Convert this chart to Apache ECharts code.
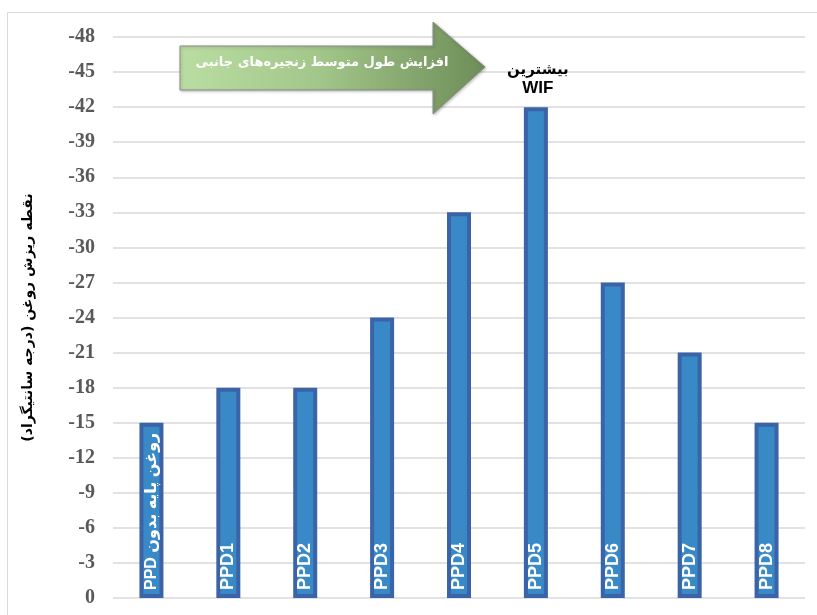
<!DOCTYPE html>
<html>
<head>
<meta charset="utf-8">
<script src="https://cdn.jsdelivr.net/npm/echarts@6/dist/echarts.min.js"></script>
<style>
html,body{margin:0;padding:0;background:#fff;}
#c{width:817px;height:615px;}
</style>
</head>
<body>
<div id="c"></div>
<script>
// ---- data ----
const categories = ['\u202Bروغن پایه بدون PPD\u202C', 'PPD1', 'PPD2', 'PPD3', 'PPD4', 'PPD5', 'PPD6', 'PPD7', 'PPD8'];
const pourPoint = [-15, -18, -18, -24, -33, -42, -27, -21, -15];
const yMin = -48, yMax = 0, yStep = 3;
const yAxisTitle = '\u202Bنقطه ریزش روغن (درجه سانتیگراد)\u202C';
const arrowText = '\u202Bافزایش طول متوسط زنجیره‌های جانبی\u202C';
const peakNote = ['\u202Bبیشترین\u202C', 'WIF'];
const peakIndex = 5;

const chart = echarts.init(document.getElementById('c'), null, {renderer: 'canvas'});

const option = {
  backgroundColor: '#fff',
  animation: false,
  grid: {left: 113, right: 12, top: 37, bottom: 17},
  xAxis: {
    type: 'category',
    data: categories,
    axisLine: {show: false},
    axisTick: {show: false},
    axisLabel: {show: false}
  },
  yAxis: {
    type: 'value',
    min: yMin, max: yMax, interval: yStep,
    inverse: true,
    axisLine: {show: false},
    axisTick: {show: false},
    splitLine: {lineStyle: {color: '#d9d9d9', width: 1.5}},
    axisLabel: {
      fontFamily: '"Liberation Serif", "Times New Roman", serif',
      fontWeight: 'bold', fontSize: 20, color: '#595959', margin: 18
    },
    name: yAxisTitle,
    nameLocation: 'middle',
    nameGap: 78,
    nameRotate: 90,
    nameTextStyle: {
      fontFamily: '"DejaVu Sans", "Liberation Sans", sans-serif',
      fontWeight: 'bold', fontSize: 14, color: '#000'
    }
  },
  series: [{
    type: 'bar',
    data: pourPoint,
    barWidth: 24,
    itemStyle: {color: '#3A89C7', borderColor: '#3A63A8', borderWidth: 4},
    label: {
      show: true,
      formatter: (p) => p.dataIndex === 0 ? '{fa|' + categories[0] + '}' : categories[p.dataIndex],
      position: 'insideBottom',
      rotate: 90,
      align: 'left',
      verticalAlign: 'middle',
      distance: 8,
      color: '#fff',
      fontWeight: 'bold',
      fontSize: 18,
      fontFamily: '"Liberation Sans", "DejaVu Sans", Arial, sans-serif',
      rich: {
        fa: {color: '#fff', fontWeight: 'bold', fontSize: 16, fontFamily: '"Liberation Sans", "DejaVu Sans", sans-serif'}
      }
    }
  }]
};
chart.setOption(option);

// annotations
const peakPt = chart.convertToPixel({seriesIndex: 0}, [peakIndex, pourPoint[peakIndex]]);
chart.setOption({
  graphic: [
    {type: 'rect', shape: {x: 7.5, y: 12.5, width: 830, height: 640}, style: {fill: 'none', stroke: '#d9d9d9', lineWidth: 1}, silent: true},
    {
      type: 'polygon',
      shape: {points: [[180, 46], [433, 46], [433, 22], [485, 67], [433, 114], [433, 90], [180, 90]]},
      style: {
        fill: new echarts.graphic.LinearGradient(0, 0, 1, 0, [
          {offset: 0, color: '#BADDA2'},
          {offset: 0.45, color: '#A3C78A'},
          {offset: 1, color: '#6E8D58'}
        ]),
        stroke: '#8c8c8c', lineWidth: 1,
        shadowBlur: 3, shadowColor: 'rgba(0,0,0,0.25)', shadowOffsetX: 1, shadowOffsetY: 1
      },
      z: 100
    },
    {
      type: 'text', x: 322, y: 63, z: 101,
      style: {
        text: arrowText, fill: '#fff', align: 'center', verticalAlign: 'middle',
        font: 'bold 13px "DejaVu Sans", sans-serif'
      }
    },
    {
      type: 'text', x: peakPt[0] + 2, y: peakPt[1] - 37, z: 101,
      style: {
        text: peakNote[0], fill: '#000', align: 'center', verticalAlign: 'middle',
        font: 'bold 15px "DejaVu Sans", sans-serif'
      }
    },
    {
      type: 'text', x: peakPt[0] + 2, y: peakPt[1] - 19, z: 101,
      style: {
        text: peakNote[1], fill: '#000', align: 'center', verticalAlign: 'middle',
        font: 'bold 17px "Liberation Sans", Arial, sans-serif'
      }
    }
  ]
});
</script>
</body>
</html>
